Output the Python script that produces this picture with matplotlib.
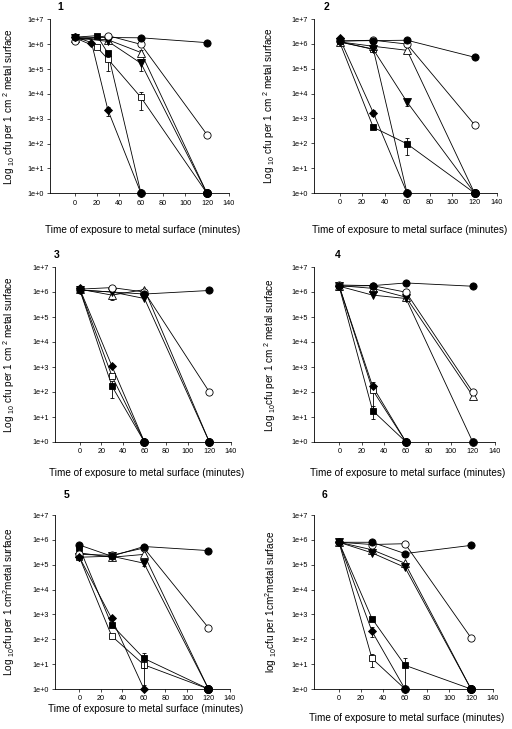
import matplotlib
matplotlib.use("Agg")
import matplotlib.pyplot as plt
import numpy as np

plt.rcParams['font.family'] = ['Liberation Sans', 'DejaVu Sans']
plt.rcParams['mathtext.fontset'] = 'custom'
plt.rcParams['mathtext.rm'] = 'Liberation Sans'
plt.rcParams['mathtext.it'] = 'Liberation Sans'

# ---------------- data (cfu per cm^2) ----------------
x_ticks = [0, 20, 40, 60, 80, 100, 120, 140]
y_tick_labels = ["1e+0", "1e+1", "1e+2", "1e+3", "1e+4", "1e+5", "1e+6", "1e+7"]
series_order = ["closed_circle", "open_circle", "down_tri", "up_tri",
                "closed_sq", "open_sq", "diamond"]
detection_limit = 1.0

panel1 = {
    "closed_circle": ([0, 60, 120], [1.9e6, 1.8e6, 1.15e6]),
    "open_circle": ([0, 30, 60, 120], [1.4e6, 2.2e6, 9.8e5, 2.3e2]),
    "down_tri": ([0, 30, 60, 120], [1.8e6, 1.3e6, 1.7e5, 1]),
    "up_tri": ([0, 30, 60, 120], [1.8e6, 1.5e6, 4.6e5, 1]),
    "closed_sq": ([0, 20, 30, 60], [1.9e6, 2.2e6, 4.3e5, 1]),
    "open_sq": ([0, 20, 30, 60, 120], [1.8e6, 7.5e5, 2.5e5, 7.2e3, 1]),
    "diamond": ([0, 15, 30, 60], [2.0e6, 1.15e6, 2.2e3, 1]),
}
panel1_err = {
    "open_sq": ([30, 60], [2.5e5, 7.2e3], [1.7e5, 5e3]),
    "down_tri": ([60], [1.7e5], [9e4]),
    "closed_sq": ([30], [4.3e5], [1.2e5]),
    "diamond": ([30], [2.2e3], [9e2]),
    "up_tri": ([60], [4.6e5], [1.2e5]),
}

panel2 = {
    "closed_circle": ([0, 30, 60, 120], [1.3e6, 1.35e6, 1.4e6, 2.9e5]),
    "open_circle": ([0, 30, 60, 120], [1.3e6, 1.4e6, 9.8e5, 5.6e2]),
    "down_tri": ([0, 30, 60, 120], [1.2e6, 6.0e5, 4.6e3, 1]),
    "up_tri": ([0, 30, 60, 120], [1.2e6, 8.0e5, 5.5e5, 1]),
    "closed_sq": ([0, 30, 60, 120], [1.2e6, 4.4e2, 95, 1]),
    "open_sq": ([0, 30, 60], [1.2e6, 6.2e5, 1]),
    "diamond": ([0, 30, 60], [1.7e6, 1.7e3, 1]),
}
panel2_err = {
    "down_tri": ([60], [4.6e3], [1.5e3]),
    "closed_sq": ([60], [95], [62]),
    "diamond": ([30], [1.7e3], [4e2]),
}

panel3 = {
    "closed_circle": ([0, 60, 120], [1.2e6, 8.3e5, 1.15e6]),
    "open_circle": ([0, 30, 60, 120], [1.3e6, 1.5e6, 1.0e6, 1.0e2]),
    "down_tri": ([0, 30, 60, 120], [1.2e6, 1.0e6, 5.5e5, 1]),
    "up_tri": ([0, 30, 60, 120], [1.3e6, 7.5e5, 1.25e6, 1]),
    "closed_sq": ([0, 30, 60], [1.3e6, 1.7e2, 1]),
    "open_sq": ([0, 30, 60], [1.3e6, 4.3e2, 1]),
    "diamond": ([0, 30, 60], [1.4e6, 1.07e3, 1]),
}
panel3_err = {
    "up_tri": ([30], [7.5e5], [2.7e5]),
    "closed_sq": ([30], [1.7e2], [1.15e2]),
}

panel4 = {
    "closed_circle": ([0, 30, 60, 120], [1.7e6, 1.8e6, 2.3e6, 1.7e6]),
    "open_circle": ([0, 30, 60, 120], [1.9e6, 1.8e6, 9.8e5, 1.0e2]),
    "down_tri": ([0, 30, 60, 120], [1.7e6, 7.5e5, 5.5e5, 1]),
    "up_tri": ([0, 30, 60, 120], [1.8e6, 1.4e6, 6.2e5, 70]),
    "closed_sq": ([0, 30, 60], [1.6e6, 18, 1]),
    "open_sq": ([0, 30, 60], [1.7e6, 1.2e2, 1]),
    "diamond": ([0, 30, 60], [1.7e6, 1.7e2, 1]),
}
panel4_err = {
    "closed_sq": ([30], [18], [10]),
    "open_sq": ([30], [1.2e2], [1.4e2]),
}

panel5 = {
    "closed_circle": ([0, 30, 60, 120], [6.2e5, 2.2e5, 5.4e5, 3.7e5]),
    "open_circle": ([0, 30, 60, 120], [2.6e5, 2.4e5, 4.7e5, 2.9e2]),
    "down_tri": ([0, 30, 60, 120], [2.0e5, 2.2e5, 1.15e5, 1]),
    "up_tri": ([0, 30, 60, 120], [3.0e5, 2.0e5, 2.6e5, 1]),
    "closed_sq": ([0, 30, 60, 120], [4.8e5, 3.8e2, 17, 1]),
    "open_sq": ([0, 30, 60, 120], [2.0e5, 1.35e2, 9.4, 1]),
    "diamond": ([0, 30, 60], [2.0e5, 6.9e2, 1]),
}
panel5_err = {
    "down_tri": ([60], [1.15e5], [3e4]),
    "closed_sq": ([60], [17], [10]),
    "open_sq": ([60], [9.4], [8.4]),
    "closed_circle": ([0], [6.2e5], [1e5]),
}

panel6 = {
    "closed_circle": ([0, 30, 60, 120], [8.0e5, 8.0e5, 2.8e5, 6.0e5]),
    "open_circle": ([0, 30, 60, 120], [8.0e5, 6.5e5, 7.0e5, 1.15e2]),
    "down_tri": ([0, 30, 60, 120], [8.0e5, 3.0e5, 7.8e4, 1]),
    "up_tri": ([0, 30, 60, 120], [8.0e5, 4.0e5, 1.15e5, 1]),
    "closed_sq": ([0, 30, 60, 120], [8.0e5, 6.8e2, 9, 1]),
    "open_sq": ([0, 30, 60], [8.0e5, 17, 1]),
    "diamond": ([0, 30, 60], [8.0e5, 2.1e2, 1]),
}
panel6_err = {
    "closed_sq": ([60], [9], [8]),
    "open_sq": ([30], [17], [9]),
    "diamond": ([30], [2.1e2], [90]),
}

panel_titles = ["1", "2", "3", "4", "5", "6"]
xlabel_text = "Time of exposure to metal surface (minutes)"
ylabel_texts = [
    r"Log $\mathregular{_{10}}$ cfu per 1 cm $\mathregular{^{2}}$ metal surface",
    r"Log $\mathregular{_{10}}$ cfu per 1 cm $\mathregular{^{2}}$ metal surface",
    r"Log $\mathregular{_{10}}$ cfu per 1 cm $\mathregular{^{2}}$ metal surface",
    r"Log $\mathregular{_{10}}$cfu per 1 cm $\mathregular{^{2}}$ metal surface",
    r"Log $\mathregular{_{10}}$cfu per 1 cm$\mathregular{^{2}}$metal surface",
    r"log $\mathregular{_{10}}$cfu per 1cm$\mathregular{^{2}}$metal surface",
]

# ---------------- styles ----------------
styles = {
    "closed_circle": dict(marker="o", mfc="black", ms=5.2),
    "open_circle": dict(marker="o", mfc="white", ms=5.2),
    "down_tri": dict(marker="v", mfc="black", ms=5.2),
    "up_tri": dict(marker="^", mfc="white", ms=5.2),
    "closed_sq": dict(marker="s", mfc="black", ms=4.5),
    "open_sq": dict(marker="s", mfc="white", ms=4.5),
    "diamond": dict(marker="D", mfc="black", ms=4.3),
}
zorders = {"closed_circle": 7, "open_circle": 6, "down_tri": 5, "up_tri": 4,
           "closed_sq": 3, "open_sq": 2, "diamond": 8}

W, H = 512, 729
# pixel boxes: left, top, right(=x 140), bottom(=1e0)
boxes = [(50, 19.3, 229, 193.3), (314, 19, 497, 193),
         (55, 267, 231, 442), (314, 267, 495, 442),
         (55, 515, 230, 689), (314, 515, 493, 689)]
title_pos = [(60, 7), (326, 7), (57, 255), (338, 255), (67, 495), (324, 495)]
ylabel_x = [9, 269, 9, 270, 9, 271]
xlabel_y = [230, 230, 473, 473, 709, 718]

panels = [panel1, panel2, panel3, panel4, panel5, panel6]
panel_errs = [panel1_err, panel2_err, panel3_err, panel4_err, panel5_err, panel6_err]

fig = plt.figure(figsize=(W / 100, H / 100), dpi=100)

for i, (data, errs) in enumerate(zip(panels, panel_errs)):
    l, t, r, b = boxes[i]
    ax = fig.add_axes([l / W, 1 - b / H, (r - l) / W, (b - t) / H])
    ax.set_xlim(-22.7, 140)
    ax.set_yscale("log")
    ax.set_ylim(1, 1e7)

    for name in series_order:
        xs, ys = data[name]
        xs = np.asarray(xs, dtype=float)
        ys = np.asarray(ys, dtype=float)
        st = styles[name]
        z = zorders[name]
        if name in errs:
            ex, ey, ee = errs[name]
            ey = np.asarray(ey, dtype=float)
            ee = np.asarray(ee, dtype=float)
            lower = np.minimum(ee, ey * 0.85)
            ax.errorbar(ex, ey, yerr=[lower, ee], fmt="none", ecolor="black",
                        elinewidth=0.6, capsize=1.6, capthick=0.6,
                        zorder=z - 0.5)
        ax.plot(xs, ys, color="black", lw=0.6, zorder=1, clip_on=False)
        above = ys > detection_limit
        ax.plot(xs[above], ys[above], ls="none", marker=st["marker"],
                ms=st["ms"], mfc=st["mfc"], mec="black", mew=0.6,
                zorder=z, clip_on=False)
        # points at the detection limit drawn as solid black dots
        at_lim = ~above
        if name == "diamond":
            ax.plot(xs[at_lim], ys[at_lim], ls="none", marker="D",
                    ms=st["ms"], mfc="black", mec="black", mew=0.6,
                    zorder=10, clip_on=False)
        else:
            ax.plot(xs[at_lim], ys[at_lim], ls="none", marker="o",
                    ms=5.6, mfc="black", mec="black", mew=0.6,
                    zorder=9, clip_on=False)

    for s in ["top", "right"]:
        ax.spines[s].set_visible(False)
    for s in ["left", "bottom"]:
        ax.spines[s].set_linewidth(0.6)
    ax.set_xticks(x_ticks)
    ax.set_xticklabels([str(v) for v in x_ticks])
    ax.set_yticks([10.0 ** k for k in range(8)])
    ax.set_yticklabels(y_tick_labels)
    ax.yaxis.set_minor_locator(matplotlib.ticker.NullLocator())
    ax.tick_params(axis="both", which="major", labelsize=5.2, length=2.5,
                   width=0.5, pad=2, direction="out")

    ax.set_xlabel(xlabel_text, fontsize=7.2)
    ax.xaxis.set_label_coords(0.52, -(xlabel_y[i] - b) / (b - t))
    ax.xaxis.label.set_va("center")
    ax.set_ylabel(ylabel_texts[i], fontsize=7.2)
    ax.yaxis.set_label_coords((ylabel_x[i] - l) / (r - l), 0.5)
    ax.yaxis.label.set_va("center")

    tx, ty = title_pos[i]
    fig.text(tx / W, 1 - ty / H, panel_titles[i], fontsize=7.5,
             fontweight="bold", ha="center", va="center")

fig.savefig("out.png", dpi=100)
